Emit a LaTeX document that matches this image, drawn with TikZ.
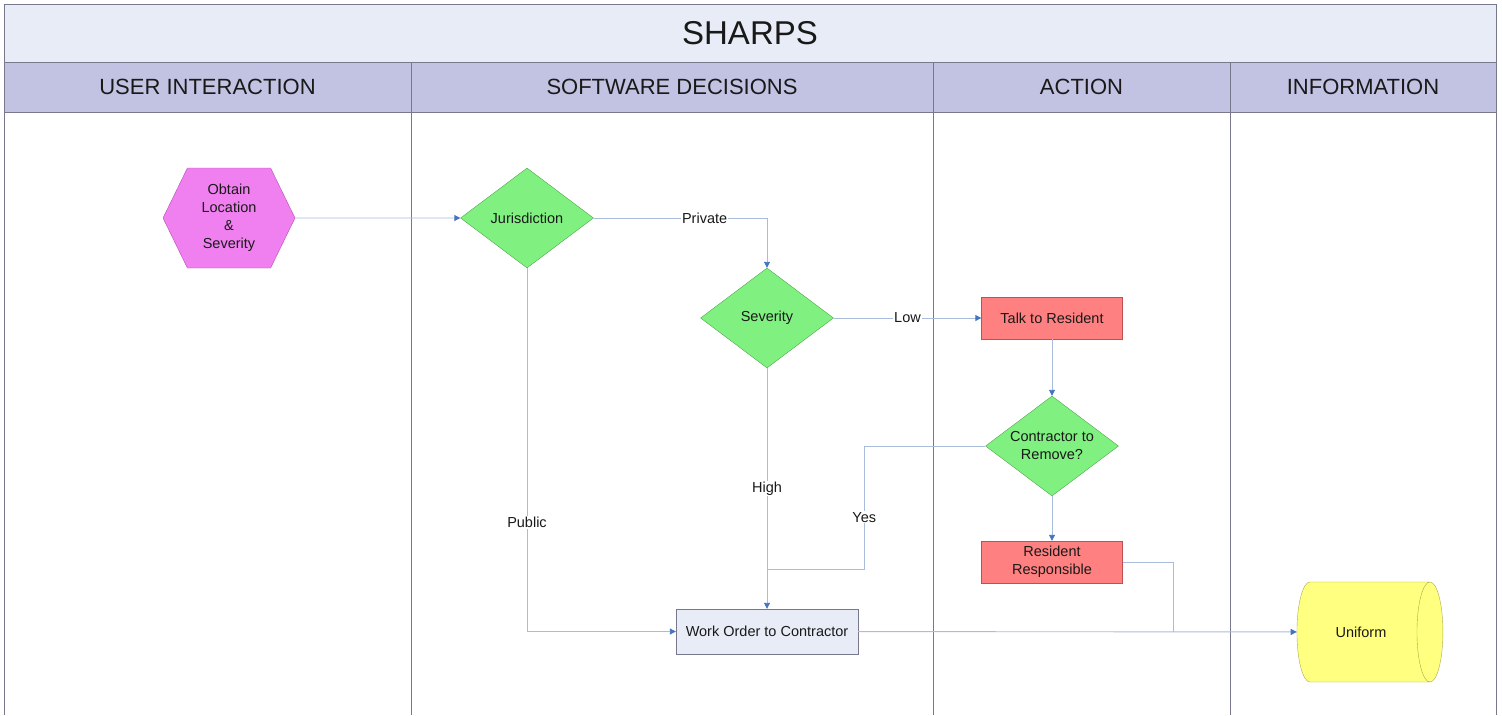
\documentclass[tikz,border=0pt]{standalone}
\usepackage{fontspec}
\setmainfont{Liberation Sans}
\usetikzlibrary{shapes.geometric,shapes.symbols,arrows.meta}

\definecolor{bandfill}{RGB}{232,236,246}
\definecolor{headfill}{RGB}{194,194,226}
\definecolor{laneline}{RGB}{120,120,140}
\definecolor{flowline}{RGB}{170,188,220}
\definecolor{tipblue}{RGB}{68,114,196}
\definecolor{hexfill}{RGB}{240,128,240}
\definecolor{hexline}{RGB}{180,80,180}
\definecolor{greenfill}{RGB}{128,240,128}
\definecolor{greenline}{RGB}{80,170,80}
\definecolor{redfill}{RGB}{255,128,128}
\definecolor{redline}{RGB}{190,80,80}
\definecolor{yellowfill}{RGB}{255,255,128}
\definecolor{yellowline}{RGB}{170,170,80}
\definecolor{textgrey}{RGB}{25,25,25}

\tikzset{
  lane/.style={draw=laneline, line width=0.8pt},
  lanehead/.style={text=textgrey, font=\fontsize{22}{25}\selectfont},
  nodetext/.style={text=textgrey, font=\fontsize{14.5}{18}\selectfont, align=center},
  decision/.style={nodetext, diamond, draw=greenline, fill=greenfill, aspect=1.33,
    minimum width=133pt, minimum height=100pt, inner sep=0pt},
  taskbox/.style={nodetext, rectangle, draw=redline, fill=redfill,
    minimum width=141pt, minimum height=42pt, inner sep=2pt},
  flow/.style={draw=flowline, line width=0.9pt,
    -{Triangle[length=6pt,width=6pt,color=tipblue]}},
  line/.style={draw=flowline, line width=0.9pt},
  lbl/.style={nodetext, fill=white, inner sep=1pt}
}

\begin{document}
\begin{tikzpicture}[x=1pt,y=-1pt]
  \useasboundingbox[fill=white] (0,0) rectangle (1502,715);

  % Draw title band and lane headers
  \fill[bandfill] (4,4) rectangle (1496,62);
  \fill[headfill] (4,62) rectangle (1496,112);
  \draw[lane] (4,715) -- (4,4) -- (1496,4) -- (1496,715);
  \draw[lane] (4,62) -- (1496,62);
  \draw[lane] (4,112) -- (1496,112);
  \foreach \x in {411,933,1230}
    \draw[lane] (\x,62) -- (\x,715);

  \node[text=textgrey, font=\fontsize{33}{36}\selectfont] (title) at (750,33) {SHARPS};
  \node[lanehead] (userhead) at (207.5,87) {USER INTERACTION};
  \node[lanehead] (softhead) at (672,87) {SOFTWARE DECISIONS};
  \node[lanehead] (acthead) at (1081.5,87) {ACTION};
  \node[lanehead] (infohead) at (1363,87) {INFORMATION};

  % Draw steps
  \node[nodetext, signal, signal to=west and east, signal pointer angle=128,
    draw=hexline, fill=hexfill, minimum width=132pt, minimum height=100pt,
    inner sep=0pt] (obtain) at (229,218) {Obtain\\Location\\\&\\Severity};
  \node[decision] (juris) at (527,218) {Jurisdiction};
  \node[decision] (sev) at (767,318) {Severity};
  \node[taskbox] (talk) at (1052,318) {Talk to Resident};
  \node[decision] (contr) at (1052,446) {Contractor to\\Remove?};
  \node[taskbox] (resp) at (1052,562) {Resident\\Responsible};
  \node[nodetext, rectangle, draw=laneline, fill=bandfill, minimum width=182pt,
    minimum height=45pt] (work) at (767,631.5) {Work Order to Contractor};
  \node[nodetext, cylinder, draw=yellowline, fill=yellowfill, aspect=1.5,
    minimum height=146pt, minimum width=100pt] (uniform) at (1361,632) {Uniform};

  % Join points
  \coordinate (yesjoin) at (767,569);
  \coordinate (respjoin) at (1173,631.5);

  % Draw connectors
  \draw[flow] (obtain) -- (juris);
  \draw[flow] (juris.east) -| node[lbl,pos=0.32] {Private} (sev.north);
  \draw[flow] (juris.south) |- node[lbl,pos=0.35] {Public} (work.west);
  \draw[flow] (sev) -- node[lbl] {Low} (talk);
  \draw[flow] (sev) -- node[lbl] {High} (work);
  \draw[flow] (talk) -- (contr);
  \draw[flow] (contr) -- (resp);
  \draw[line] (contr.west) -- ++(-121,0) |- node[lbl,pos=0.29] {Yes} (yesjoin);
  \draw[line] (resp.east) -| (respjoin);
  \draw[flow] (work) -- (uniform);
\end{tikzpicture}
\end{document}
